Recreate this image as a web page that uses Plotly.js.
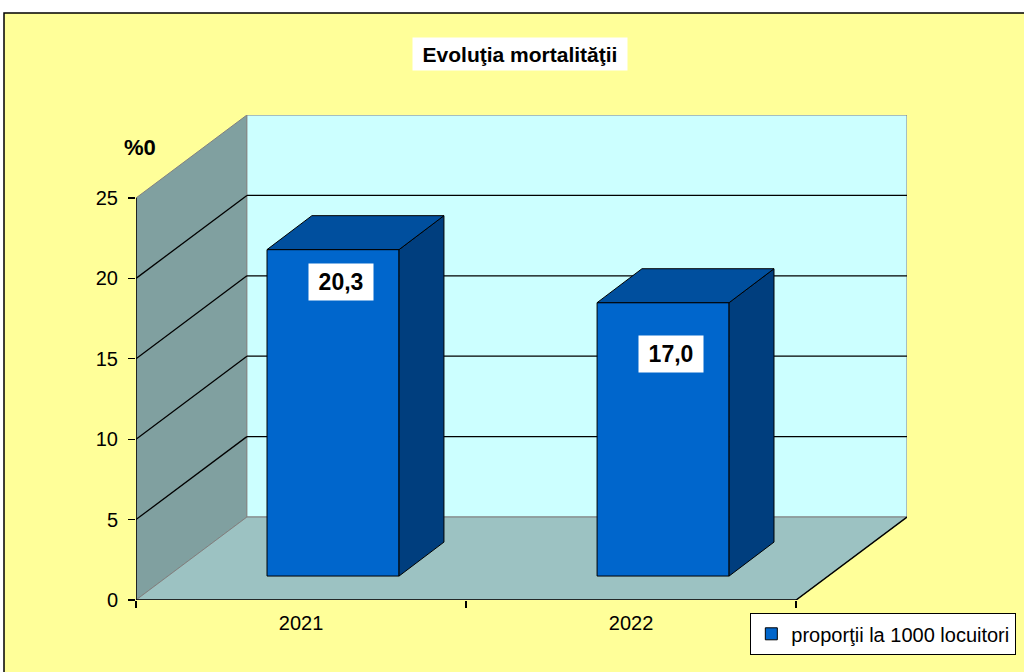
<!DOCTYPE html>
<html>
<head>
<meta charset="utf-8">
<script src="https://cdn.plot.ly/plotly-3.0.1.min.js"></script>
<style>html,body{margin:0;padding:0;background:#fff;}#chart{width:1024px;height:672px;}</style>
</head>
<body>
<div id="chart"></div>
<script>
// ---- data ----
const years = ['2021', '2022'];
const rates = [20.3, 17.0];
const yTicks = [0, 5, 10, 15, 20, 25];
const seriesName = 'proporţii la 1000 locuitori';
const chartTitle = 'Evoluţia mortalităţii';
const unitLabel = '%0';

// ---- 3D projection geometry (axis units) ----
const N = years.length;
const YMAX = yTicks[yTicks.length - 1];
const DX = 0.336, DY = 5.16;     // full depth offset
const BX = 0.097, BY = 1.49;     // bar front offset
const DDX = 0.136, DDY = 2.11;   // bar depth
const BW = 0.4;                  // bar width
const FONT = 'Liberation Sans, Arial, sans-serif';

const frontC = '#0066CC', topC = '#004F9E', sideC = '#003E7E';

const traces = [];
rates.forEach((v, i) => {
  const x0 = i + 0.5 - BW / 2 + BX, x1 = i + 0.5 + BW / 2 + BX;
  const yb = BY, yt = BY + v;
  traces.push({
    type: 'scatter', mode: 'lines', fill: 'toself', fillcolor: sideC,
    x: [x1, x1 + DDX, x1 + DDX, x1, x1], y: [yb, yb + DDY, yt + DDY, yt, yb],
    line: {color: '#000', width: 1}, showlegend: false, hoverinfo: 'skip'
  });
  traces.push({
    type: 'scatter', mode: 'lines', fill: 'toself', fillcolor: topC,
    x: [x0, x0 + DDX, x1 + DDX, x1, x0], y: [yt, yt + DDY, yt + DDY, yt, yt],
    line: {color: '#000', width: 1}, showlegend: false, hoverinfo: 'skip'
  });
});
traces.push({
  type: 'bar', name: seriesName,
  x: years.map((_, i) => i + 0.5 + BX), y: rates, base: BY, width: BW,
  marker: {color: frontC, line: {color: '#000', width: 1}},
  hoverinfo: 'skip'
});

const grey = '#808080';
const shapes = [
  {type: 'rect', xref: 'paper', yref: 'paper', x0: -0.1712, x1: 1.17, y0: -0.17, y1: 1.2103,
   fillcolor: '#FFFF99', line: {color: '#000', width: 1.5}, layer: 'below'},
  {type: 'path', xref: 'x', yref: 'y', layer: 'below',
   path: `M0,0 L0,${YMAX} L${DX},${YMAX + DY} L${DX},${DY} Z`,
   fillcolor: '#80A0A0', line: {color: grey, width: 1}},
  {type: 'rect', xref: 'x', yref: 'y', layer: 'below',
   x0: DX, x1: N + DX, y0: DY, y1: YMAX + DY,
   fillcolor: '#CCFFFF', line: {color: grey, width: 1}},
  {type: 'path', xref: 'x', yref: 'y', layer: 'below',
   path: `M0,0 L${DX},${DY} L${N + DX},${DY} L${N},0 Z`,
   fillcolor: '#9CC2C2', line: {color: grey, width: 1}}
];
yTicks.filter(v => v > 0 && v < YMAX).forEach(v => {
  shapes.push({type: 'line', xref: 'x', yref: 'y', layer: 'below',
    x0: DX, x1: N + DX, y0: v + DY, y1: v + DY, line: {color: '#000', width: 1.3}});
  shapes.push({type: 'line', xref: 'x', yref: 'y', layer: 'below',
    x0: 0, x1: DX, y0: v, y1: v + DY, line: {color: '#000', width: 1.3}});
});
shapes.push({type: 'line', xref: 'x', yref: 'y', layer: 'below', x0: 0, x1: N, y0: 0, y1: 0, line: {color: '#000', width: 1.5}});
shapes.push({type: 'line', xref: 'x', yref: 'y', layer: 'below', x0: N, x1: N + DX, y0: 0, y1: DY, line: {color: '#000', width: 1.5}});
shapes.push({type: 'line', xref: 'x', yref: 'y', layer: 'below', x0: 0, x1: 0, y0: 0, y1: YMAX, line: {color: '#000', width: 1.5}});

const labelDrop = [32, 51];
const annotations = rates.map((v, i) => ({
  xref: 'x', yref: 'y', x: i + 0.5 + BX, y: BY + v, yshift: -labelDrop[i], xshift: 8,
  text: '<b>' + v.toFixed(1).replace('.', ',') + '</b>', showarrow: false,
  font: {family: FONT, size: 23, color: '#000'}, bgcolor: '#fff', width: 62, height: 34,
  xanchor: 'center', yanchor: 'middle'
}));
annotations.push({
  xref: 'paper', yref: 'paper', x: 0.498, y: 1.1258, xanchor: 'center', yanchor: 'middle',
  text: '<b>' + chartTitle + '</b>', showarrow: false, bgcolor: '#fff', width: 212, height: 30,
  font: {family: FONT, size: 21, color: '#000'}
});
annotations.push({
  xref: 'paper', yref: 'paper', x: 0.0052, y: 0.934, xanchor: 'center', yanchor: 'middle',
  text: '<b>' + unitLabel + '</b>', showarrow: false,
  font: {family: FONT, size: 22, color: '#000'}
});

const layout = {
  width: 1024, height: 672,
  margin: {l: 136, r: 117, t: 115, b: 72, autoexpand: false},
  paper_bgcolor: '#fff', plot_bgcolor: 'rgba(0,0,0,0)',
  font: {family: FONT, color: '#000'},
  showlegend: true,
  legend: {x: 0.7964, y: -0.0268, xanchor: 'left', yanchor: 'top',
    bgcolor: '#fff', bordercolor: '#000', borderwidth: 1.3,
    font: {family: FONT, size: 20, color: '#000'}},
  xaxis: {range: [0, N + DX], tickvals: years.map((_, i) => i + 0.5), ticktext: years,
    ticks: '', showgrid: false, zeroline: false, showline: false, fixedrange: true,
    tickfont: {family: FONT, size: 20, color: '#000'}, ticklabelstandoff: 9,
    minor: {tickmode: 'array', tickvals: years.map((_, i) => i).concat([N]), ticks: 'outside',
      ticklen: 7, tickwidth: 1.3, tickcolor: '#000', showgrid: false}},
  yaxis: {range: [0, YMAX + DY], tickvals: yTicks, ticks: 'outside', ticklen: 7,
    tickwidth: 1.3, tickcolor: '#000', showgrid: false, zeroline: false, showline: false,
    fixedrange: true, tickfont: {family: FONT, size: 20, color: '#000'}, ticklabelstandoff: 6},
  shapes: shapes,
  annotations: annotations
};

Plotly.newPlot('chart', traces, layout, {displayModeBar: false, staticPlot: true});
</script>
</body>
</html>
